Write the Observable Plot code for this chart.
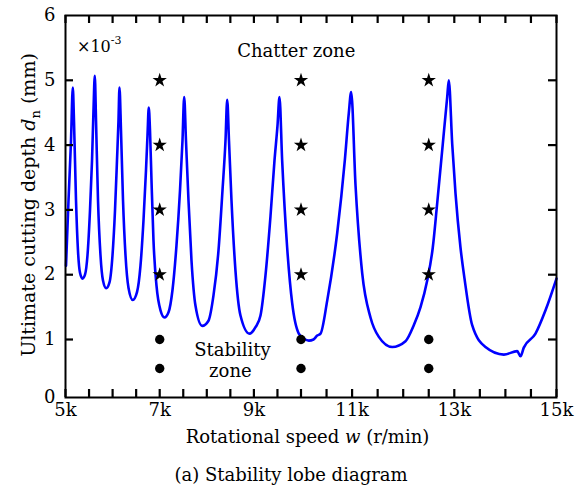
<!DOCTYPE html>
<html><head><meta charset="utf-8">
<script src="https://cdn.jsdelivr.net/npm/d3@7"></script>
<script src="https://cdn.jsdelivr.net/npm/@observablehq/plot@0.6"></script>
<style>
body{margin:0;background:#fff;}
#wrap{position:relative;width:582px;height:490px;}
#caption{position:absolute;left:0;width:582px;text-align:center;top:466px;font-size:18px;line-height:18px;color:#000;font-family:"DejaVu Serif",serif;}
</style></head><body>
<div id="wrap"><div id="chart"></div><div id="caption">(a) Stability lobe diagram</div></div>
<script>
// Stability lobe curve: rotational speed (r/min) and ultimate cutting depth (×10^-3 mm)
const speed = [5011,5064,5117,5155,5180,5223,5265,5308,5361,5414,
  5467,5520,5563,5594,5622,5648,5690,5743,5796,5864,
  5934,5998,6051,6093,6125,6146,6178,6221,6274,6337,
  6429,6518,6592,6656,6709,6741,6768,6794,6826,6868,
  6932,7017,7102,7187,7271,7356,7431,7484,7520,7558,
  7611,7675,7760,7902,8036,8142,8248,8333,8397,8433,
  8471,8524,8609,8715,8906,9034,9140,9246,9353,9437,
  9501,9543,9600,9706,9813,9953,10049,10153,10245,10317,
  10382,10513,10708,10857,10935,10982,11067,11198,11360,11523,
  11785,12045,12207,12339,12470,12579,12665,12775,12861,12892,
  12959,13024,13121,13200,13350,13610,13969,14231,14296,14360,
  14589,14785,15000];
const depth = [2.14,3.15,4.07,4.89,4.38,3.15,2.37,2.03,1.94,2.00,
  2.30,2.99,3.76,4.53,5.07,4.38,3.15,2.30,1.91,1.79,
  1.88,2.30,2.99,3.76,4.38,4.89,4.23,3.15,2.30,1.80,
  1.61,1.73,2.14,2.84,3.61,4.15,4.58,4.23,3.45,2.53,
  1.83,1.45,1.34,1.42,1.76,2.45,3.30,4.07,4.74,4.07,
  3.15,2.22,1.52,1.21,1.29,1.68,2.37,3.30,4.07,4.70,
  4.07,3.15,2.06,1.37,1.09,1.19,1.37,1.99,2.91,3.76,
  4.30,4.74,3.76,2.42,1.56,1.09,1.02,0.98,1.00,1.06,
  1.09,1.60,2.64,3.76,4.49,4.82,3.38,2.02,1.34,1.04,
  0.87,0.97,1.22,1.50,1.91,2.42,3.10,4.02,4.74,5.00,
  4.02,3.25,2.42,1.94,1.22,0.87,0.74,0.80,0.71,0.86,
  1.09,1.45,1.94];

// Test points
const testSpeeds = [7000, 10000, 12500];
const chatterDepths = [2, 3, 4, 5];
const stableDepths = [0.5, 1];

// Axis ticks
const xMinorTicks = [5000,5500,6000,6500,7000,7500,8000,8500,9000,9500,10000,10500,11000,11500,12000,12500,13000,13500,14000,14500,15000];
const xLabelTicks = [5000,7000,9000,11000,13000,15000];
const xTickLabels = ["5k","7k","9k","11k","13k","15k"];
const yLabelTicks = [0,1,2,3,4,5,6];
const ySideTicks = [1,2,3,4,5];

// Annotations
const zoneNotes = [{text: "Chatter zone", speed: 9900, depth: 5.367}];
const stabilityNotes = [
  {text: "Stability", speed: 8545, depth: 0.707},
  {text: "zone", speed: 8500, depth: 0.345}
];

const curve = speed.map((s, i) => ({speed: s, depth: depth[i]}));
const chatterPts = testSpeeds.flatMap(s => chatterDepths.map(d => ({speed: s, depth: d})));
const stablePts = testSpeeds.flatMap(s => stableDepths.map(d => ({speed: s, depth: d})));

const FF = "DejaVu Serif";
const W = 582, plotH = 455;
const xs = {type: "linear", domain: [5000, 10000, 15000], range: [65, 300.5, 556]};
const ys = {type: "linear", domain: [0, 1, 6], range: [397, 339, 15]};
const xScale = d3.scaleLinear().domain(xs.domain).range(xs.range);
const yScale = d3.scaleLinear().domain(ys.domain).range(ys.range);
const TL = 8; // inward tick length in px, converted to data units through the scales
const yBottomTickEnd = yScale.invert(397 - TL);
const yTopTickEnd = yScale.invert(15 + TL);
const xLeftTickEnd = xScale.invert(65 + TL);
const xRightTickEnd = xScale.invert(556 - TL);
const tk = {stroke: "black", strokeWidth: 2.2};

const chart = Plot.plot({
  width: W, height: plotH,
  marginLeft: 65, marginRight: 26, marginTop: 15, marginBottom: 58,
  x: xs, y: ys,
  style: {fontFamily: FF, fontSize: "18px", background: "white", color: "black", overflow: "visible"},
  marks: [
    Plot.line(curve, {x: "speed", y: "depth", stroke: "#0000ff", strokeWidth: 2.6, curve: "monotone-x"}),
    Plot.dot(chatterPts, {x: "speed", y: "depth", symbol: "star", r: 4.5, fill: "black", stroke: "none"}),
    Plot.dot(stablePts, {x: "speed", y: "depth", symbol: "circle", r: 4.7, fill: "black", stroke: "none"}),
    Plot.ruleX(xMinorTicks, {y1: 0, y2: yBottomTickEnd, ...tk}),
    Plot.ruleX(xMinorTicks, {y1: yTopTickEnd, y2: 6, ...tk}),
    Plot.ruleY(ySideTicks, {x1: 5000, x2: xLeftTickEnd, ...tk}),
    Plot.ruleY(ySideTicks, {x1: xRightTickEnd, x2: 15000, ...tk}),
    Plot.axisX(xLabelTicks, {anchor: "bottom", tickSize: 0, tickPadding: 6, label: null, fontSize: 18,
      tickFormat: d => xTickLabels[xLabelTicks.indexOf(d)]}),
    Plot.axisY(yLabelTicks, {anchor: "left", tickSize: 0, tickPadding: 10, label: null, fontSize: 18,
      tickFormat: d => String(d)}),
    Plot.text(zoneNotes, {x: "speed", y: "depth", text: "text", fontSize: 18, lineAnchor: "bottom", fill: "black"}),
    Plot.text(stabilityNotes, {x: "speed", y: "depth", text: "text", fontSize: 18, lineAnchor: "bottom", fill: "black"}),
    Plot.frame({stroke: "black", strokeWidth: 2})
  ]
});
document.getElementById("chart").appendChild(chart);

const svg = d3.select(chart);
const mult = svg.append("text").attr("x", 77).attr("y", 52).attr("text-anchor", "start").style("font-family", FF).attr("font-size", 16).attr("fill", "black");
mult.append("tspan").text("×10");
mult.append("tspan").attr("font-size", 11).attr("dy", -8).text("-3");
const xt = svg.append("text").attr("x", 307.5).attr("y", 443).attr("text-anchor", "middle").style("font-family", FF).attr("font-size", 18).attr("fill", "black");
xt.append("tspan").text("Rotational speed ");
xt.append("tspan").attr("font-style", "italic").text("w");
xt.append("tspan").text(" (r/min)");
const yt = svg.append("text").attr("transform", "translate(35,205) rotate(-90)").attr("text-anchor", "middle").style("font-family", FF).attr("font-size", 19).attr("fill", "black");
yt.append("tspan").text("Ultimate cutting depth ");
yt.append("tspan").attr("font-style", "italic").text("d");
yt.append("tspan").attr("font-size", 13).attr("dy", 5).text("n");
yt.append("tspan").attr("dy", -5).text(" (mm)");
</script>
</body></html>
